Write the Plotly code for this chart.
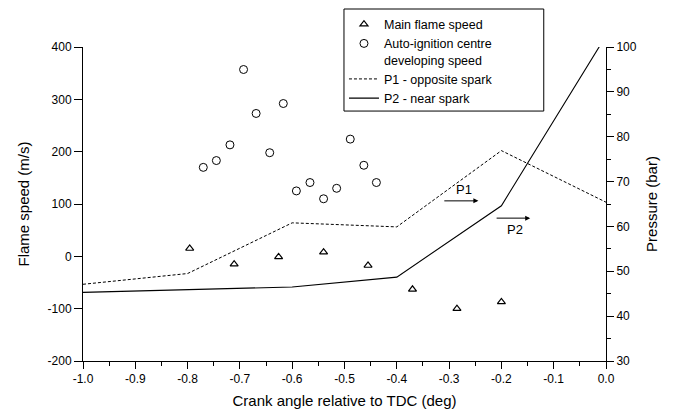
import plotly.graph_objects as go

# ---------------- data ----------------
crank_main = [-0.796, -0.711, -0.626, -0.540, -0.455, -0.370, -0.285, -0.200]
main_speed = [15, -15, -1, 8, -17.5, -63, -100, -87]

crank_auto = [-0.770, -0.745, -0.719, -0.693, -0.669, -0.643, -0.617,
              -0.592, -0.566, -0.540, -0.515, -0.489, -0.463, -0.439]
auto_speed = [170, 183, 213, 357, 273, 198, 292, 125, 141, 110, 130, 224, 174, 141]

crank_p = [-1.0, -0.8, -0.6, -0.4, -0.2, 0.0]
p1_opposite = [47.1, 49.5, 60.8, 59.9, 76.9, 65.4]
p2_near = [45.3, 45.9, 46.5, 48.7, 64.6, 102.5]

x_ticks = [-1.0, -0.9, -0.8, -0.7, -0.6, -0.5, -0.4, -0.3, -0.2, -0.1, 0.0]
x_tick_text = ["-1.0", "-0.9", "-0.8", "-0.7", "-0.6", "-0.5", "-0.4", "-0.3", "-0.2", "-0.1", "0.0"]
y_ticks = [-200, -100, 0, 100, 200, 300, 400]
y_tick_text = ["-200", "-100", "0", "100", "200", "300", "400"]
y2_ticks = [30, 40, 50, 60, 70, 80, 90, 100]

FONT = "Liberation Sans, Arial, sans-serif"

fig = go.Figure()
fig.add_trace(go.Scatter(
    x=crank_main, y=main_speed, mode="markers", name="Main flame speed",
    marker=dict(symbol="triangle-up-open", size=7, color="black", line=dict(width=1.2, color="black")),
))
fig.add_trace(go.Scatter(
    x=crank_auto, y=auto_speed, mode="markers", name="Auto-ignition centre<br>developing speed",
    marker=dict(symbol="circle-open", size=8, color="black", line=dict(width=1, color="black")),
))
fig.add_trace(go.Scatter(
    x=crank_p, y=p1_opposite, mode="lines", name="P1 - opposite spark", yaxis="y2",
    line=dict(color="black", width=1, dash="3px,2px"),
))
fig.add_trace(go.Scatter(
    x=crank_p, y=p2_near, mode="lines", name="P2 - near spark", yaxis="y2",
    line=dict(color="black", width=1.1),
))

axis_common = dict(
    showline=True, linecolor="black", linewidth=1, ticks="outside", tickcolor="black",
    showgrid=False, zeroline=False, tickfont=dict(family=FONT, size=12, color="black"),
)

fig.update_layout(
    width=673, height=415,
    margin=dict(l=83, r=67, t=47, b=54, autoexpand=False),
    paper_bgcolor="white", plot_bgcolor="white",
    font=dict(family=FONT, size=12, color="black"),
    showlegend=True,
    legend=dict(x=0.499, y=0.977, yref="container", xanchor="left", yanchor="top", valign="top",
                bgcolor="rgba(0,0,0,0)", borderwidth=0,
                font=dict(family=FONT, size=12.5, color="black"), tracegroupgap=0),
    xaxis=dict(
        range=[-1.0, 0.0], tickvals=x_ticks, ticktext=x_tick_text, ticklen=7,
        minor=dict(dtick=0.05, ticks="outside", ticklen=4, tickcolor="black"),
        title=dict(text="Crank angle relative to TDC (deg)", font=dict(family=FONT, size=15), standoff=10),
        **axis_common,
    ),
    yaxis=dict(
        range=[-200, 400], tickvals=y_ticks, ticktext=y_tick_text, ticklen=8,
        title=dict(text="Flame speed (m/s)", font=dict(family=FONT, size=15), standoff=14),
        **axis_common,
    ),
    yaxis2=dict(
        range=[30, 100], overlaying="y", side="right", tickvals=y2_ticks, ticklen=7,
        minor=dict(dtick=5, ticks="outside", ticklen=4, tickcolor="black"),
        title=dict(text="Pressure (bar)", font=dict(family=FONT, size=15), standoff=10),
        **axis_common,
    ),
    shapes=[dict(type="rect", xref="paper", yref="paper", x0=0.499, x1=0.881, y0=0.796, y1=1.121,
                 line=dict(color="black", width=1), fillcolor="white", layer="below")],
)

# arrows + labels for the pressure curves
fig.add_annotation(x=-0.244, y=106, ax=-0.312, ay=106, xref="x", yref="y", axref="x", ayref="y",
                   text="", showarrow=True, arrowhead=2, arrowsize=1, arrowwidth=1, arrowcolor="black")
fig.add_annotation(x=-0.145, y=73, ax=-0.212, ay=73, xref="x", yref="y", axref="x", ayref="y",
                   text="", showarrow=True, arrowhead=2, arrowsize=1, arrowwidth=1, arrowcolor="black")
fig.add_annotation(x=-0.272, y=128, xref="x", yref="y", text="P1", showarrow=False,
                   font=dict(family=FONT, size=13, color="black"))
fig.add_annotation(x=-0.174, y=51, xref="x", yref="y", text="P2", showarrow=False,
                   font=dict(family=FONT, size=13, color="black"))

fig.write_html("out.html")
